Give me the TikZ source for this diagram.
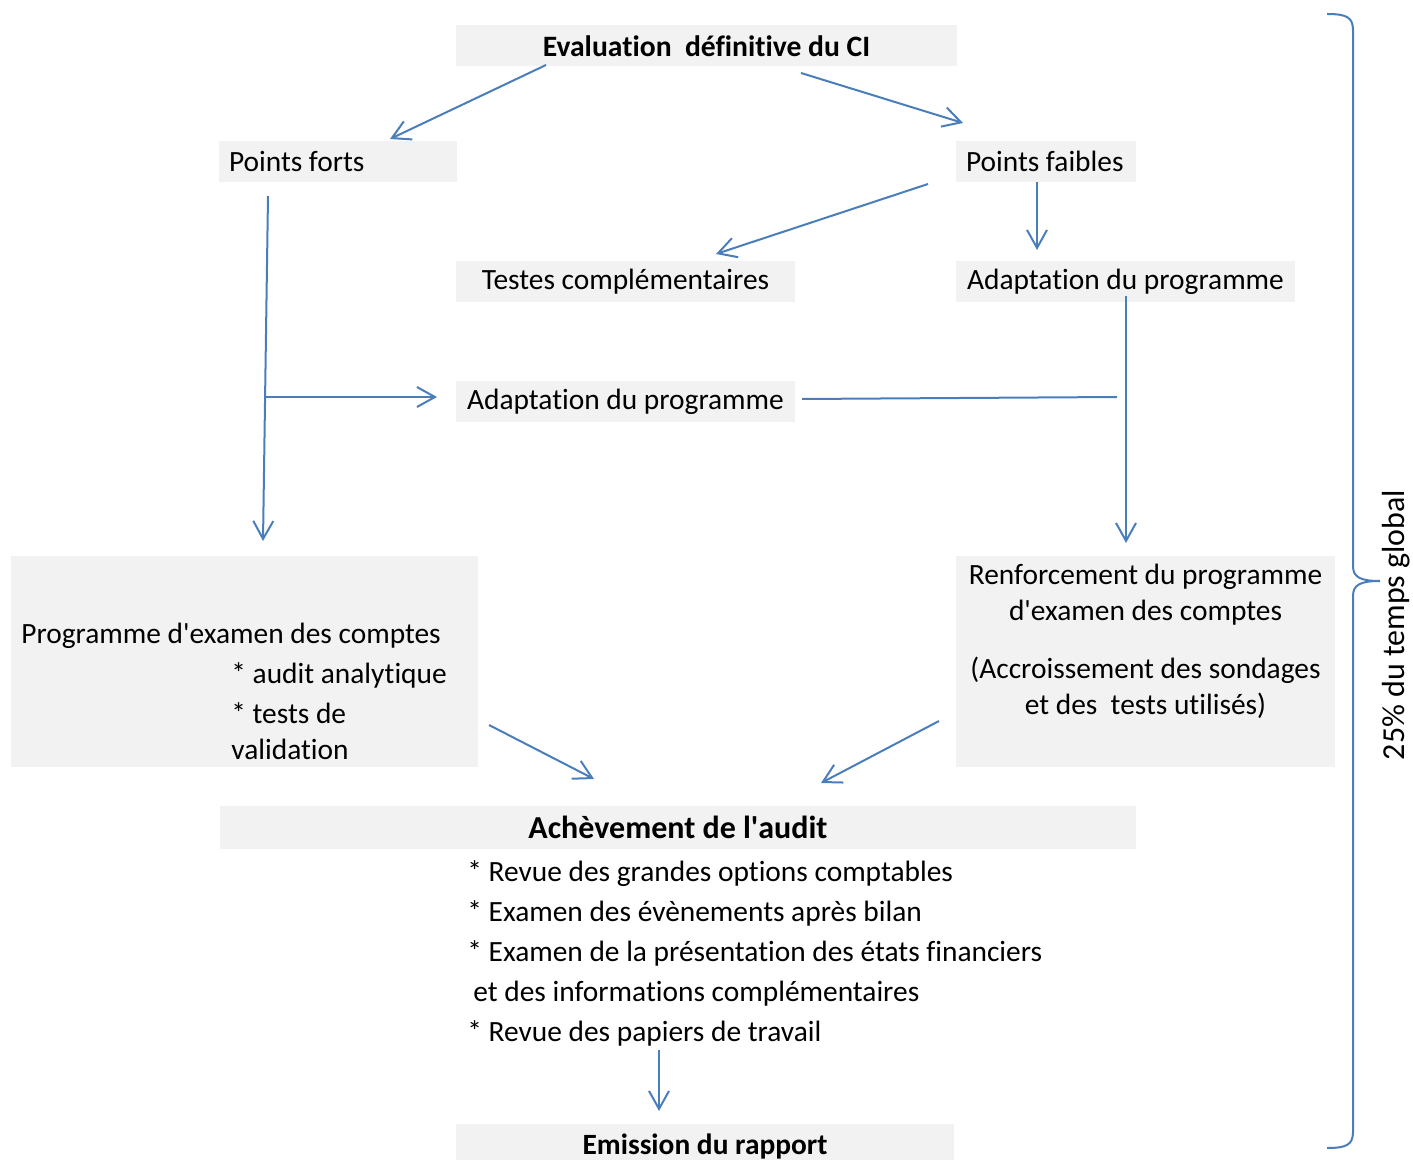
\documentclass[tikz,border=0pt]{standalone}
\usepackage{fontspec}
\setmainfont{Carlito}[Ligatures={TeX,NoCommon}]
\usetikzlibrary{arrows.meta}
\definecolor{boxgray}{HTML}{F2F2F2}
\definecolor{linkblue}{HTML}{4A7EBB}
\begin{document}
\begin{tikzpicture}[x=0.5pt,y=-0.5pt,
        txt/.style={font=\fontsize{14.7}{20}\selectfont},
        box/.style={txt,fill=boxgray,inner xsep=5pt,inner ysep=0pt,minimum height=20.5pt},
        link/.style={draw=linkblue,line width=1pt},
        arr/.style={link,-{Straight Barb[length=9pt,width=10pt]}}]
        \useasboundingbox (0,0) rectangle (1413,1160);

        % cases grises
        \node[box,minimum width=250.5pt,font=\fontsize{14.8}{20}\selectfont\bfseries] (eval) at (706.5,46) {Evaluation\ \ définitive du CI};
        \node[box,text width=109pt,align=flush left] (forts) at (338,161.5) {Points forts};
        \node[box,text width=80pt,align=flush left] (faibles) at (1046,161.5) {\mbox{Points faibles}};
        \node[box,minimum width=169.5pt] (testes) at (625.5,281.5) {Testes complémentaires};
        \node[box,minimum width=169.5pt] (adaptR) at (1125.5,281.5) {Adaptation du programme};
        \node[box,minimum width=169.5pt] (adaptM) at (625.5,401.5) {Adaptation du programme};
        \node[box,minimum width=233.5pt,minimum height=105.5pt] (prog) at (244.5,661.5) {};
        \node[box,minimum width=189.5pt,minimum height=105.5pt] (renf) at (1145.5,661.5) {};
        \node[box,minimum width=458pt,minimum height=21.5pt,font=\fontsize{16}{20}\selectfont\bfseries] (achev) at (678,827.5) {Achèvement de l\textquotesingle audit};
        \node[box,minimum width=249pt,minimum height=22pt,font=\fontsize{14.7}{20}\selectfont\bfseries] (emis) at (705,1146) {Emission du rapport};

        % textes des grandes cases
        \node[txt,anchor=north west,inner sep=0pt,align=left] (progtxt) at (21,623)
            {Programme d\textquotesingle examen des comptes\\
             \hspace*{105pt}* audit analytique\\
             \hspace*{105pt}* tests de\\[-2pt]
             \hspace*{105pt}validation};
        \node[txt,font=\fontsize{14.7}{18}\selectfont,anchor=north,inner sep=0pt,align=center] (renftxt) at (1145.5,564)
            {Renforcement du programme\\
             d\textquotesingle examen des comptes\\[11pt]
             (Accroissement des sondages\\
             et des\ \ tests utilisés)};
        \node[txt,anchor=north west,inner sep=0pt,align=left] (liste) at (467,860)
            {* Revue des grandes options comptables\\
             * Examen des évènements après bilan\\
             * Examen de la présentation des états financiers\\
             \hspace*{3pt}et des informations complémentaires\\
             * Revue des papiers de travail};

        % extremites des fleches
        \coordinate (evalL) at (546,65);
        \coordinate (fortsIn) at (390,139);
        \coordinate (evalR) at (801,73);
        \coordinate (faiblesIn) at (963,123);
        \coordinate (faiblesL) at (928,184);
        \coordinate (testesIn) at (716,254);
        \coordinate (faiblesB) at (1037,182);
        \coordinate (adaptRIn) at (1037,250);
        \coordinate (fortsB) at (268,196);
        \coordinate (progIn) at (263,541);
        \coordinate (fortsM) at (266,397);
        \coordinate (adaptMIn) at (437,397);
        \coordinate (adaptMR) at (802,399);
        \coordinate (joinR) at (1117,397);
        \coordinate (adaptRB) at (1126,296);
        \coordinate (renfIn) at (1126,543);
        \coordinate (progR) at (489,725);
        \coordinate (achevL) at (594,779);
        \coordinate (renfL) at (939,721);
        \coordinate (achevR) at (821,783);
        \coordinate (listeB) at (659,1050);
        \coordinate (emisIn) at (659,1111);

        % fleches
        \foreach \a/\b in {evalL/fortsIn,evalR/faiblesIn,faiblesL/testesIn,faiblesB/adaptRIn,
                fortsB/progIn,fortsM/adaptMIn,adaptRB/renfIn,progR/achevL,renfL/achevR,listeB/emisIn}
            \draw[arr] (\a) -- (\b);
        \draw[link] (adaptMR) -- (joinR);

        % accolade
        \draw[link] (1327,14) .. controls (1346,14) and (1353,17) .. (1353,30) -- (1353,566)
            .. controls (1353,577) and (1360,581) .. (1380,581)
            .. controls (1360,581) and (1353,585) .. (1353,596) -- (1353,1132)
            .. controls (1353,1145) and (1346,1148) .. (1327,1148);
        \node[txt,font=\fontsize{16}{20}\selectfont,rotate=90,inner sep=0pt] (temps) at (1396,625) {25\% du temps global};

    \end{tikzpicture}
\end{document}
